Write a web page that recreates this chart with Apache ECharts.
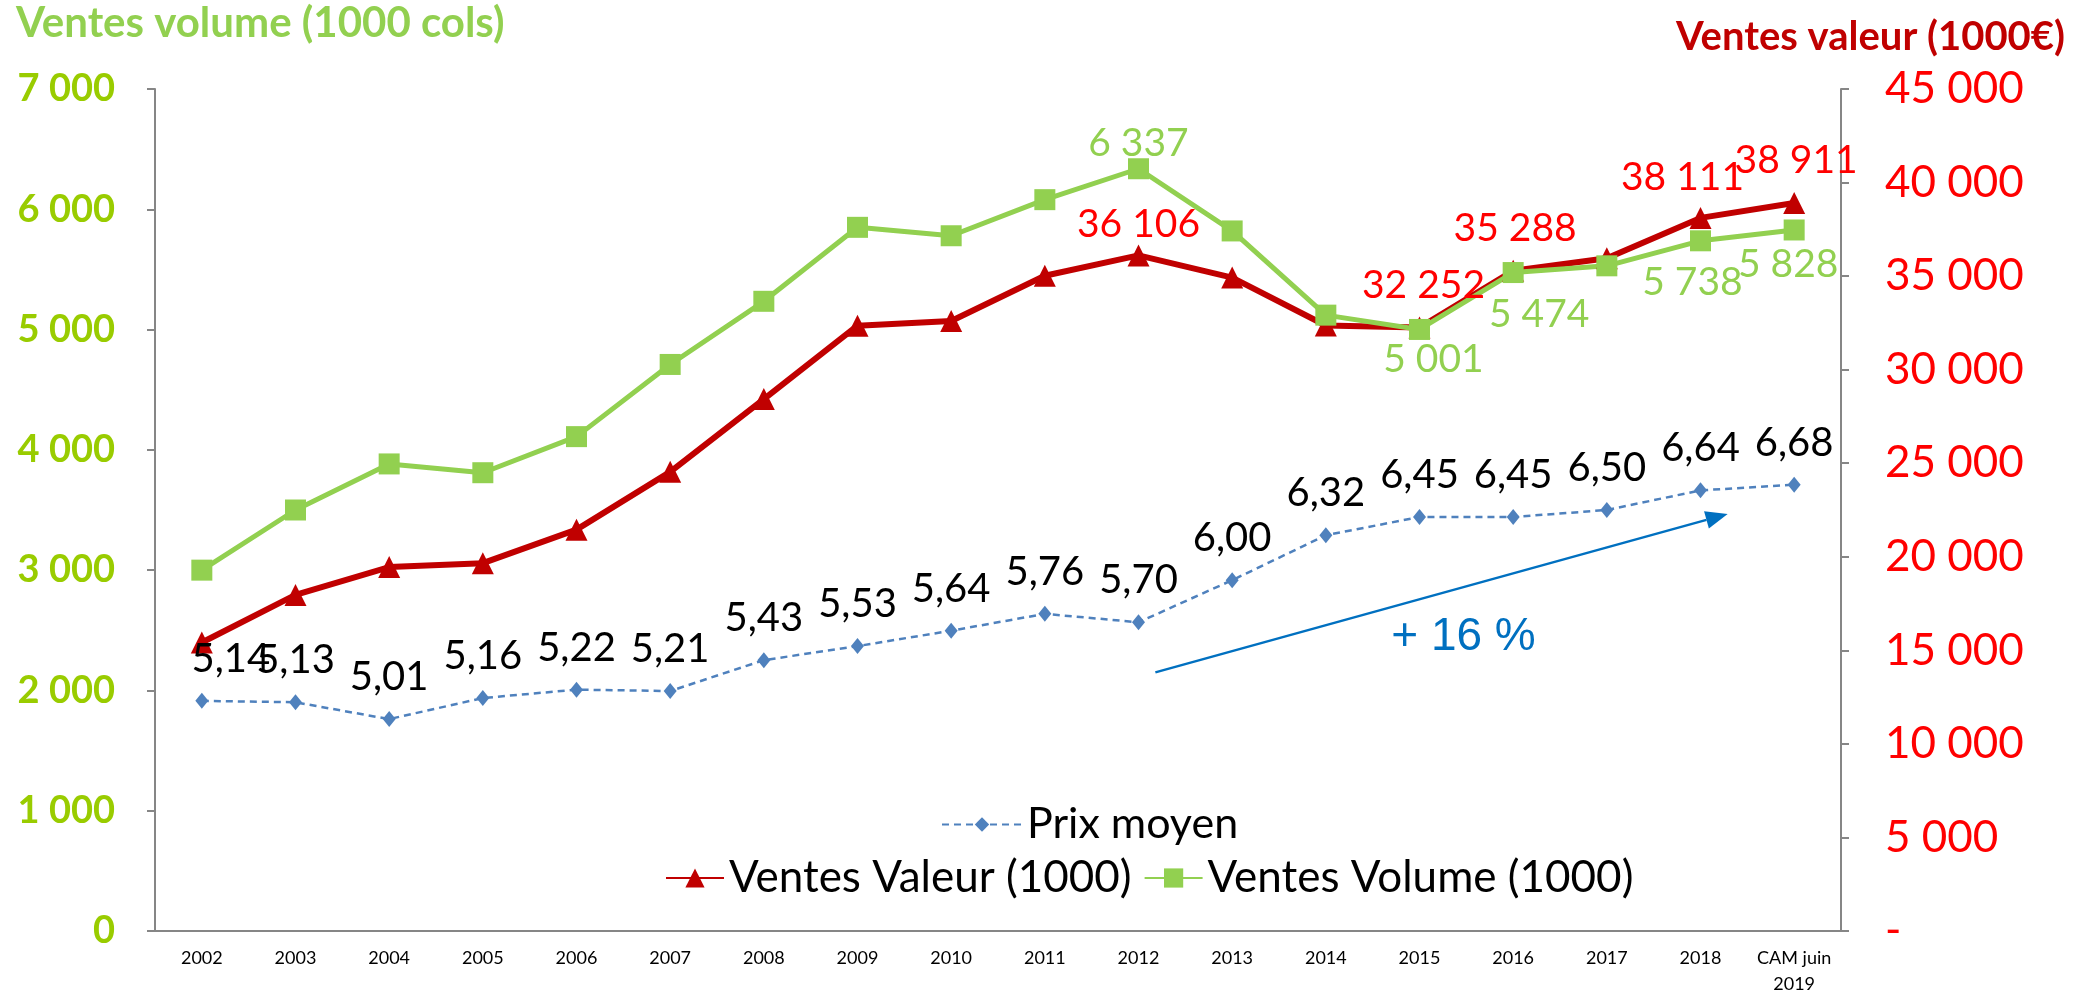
<!DOCTYPE html>
<html>
<head>
<meta charset="utf-8">
<script src="https://cdn.jsdelivr.net/npm/echarts@6/dist/echarts.min.js"></script>
<style>
  html, body { margin: 0; padding: 0; background: #fff; }
  #chart { width: 2087px; height: 997px; }
</style>
</head>
<body>
<div id="chart"></div>
<script>
var categories = ['2002','2003','2004','2005','2006','2007','2008','2009','2010','2011','2012','2013','2014','2015','2016','2017','2018','CAM juin\n2019'];
var prixMoyen = [5.14, 5.13, 5.01, 5.16, 5.22, 5.21, 5.43, 5.53, 5.64, 5.76, 5.70, 6.00, 6.32, 6.45, 6.45, 6.50, 6.64, 6.68];
var ventesValeur = [15420, 17960, 19450, 19660, 21450, 24540, 28430, 32350, 32600, 35020, 36106, 34920, 32360, 32252, 35288, 35950, 38111, 38911];
var ventesVolume = [3000, 3500, 3883, 3810, 4110, 4710, 5235, 5850, 5780, 6080, 6337, 5820, 5120, 5001, 5474, 5530, 5738, 5828];
var volumeTicks = [0, 7000, 1000];
var valeurTicks = [0, 45000, 5000];

var FONT = 'Lato';

function fmtSpace(v) {
    return String(Math.round(v)).replace(/\B(?=(\d{3})+(?!\d))/g, ' ');
}

// which points carry a label, and where
var valeurLabels = { 10: ['top', 0, [0, 0]], 13: ['top', 12, [4, 0]], 14: ['top', 12, [2, 0]], 16: ['top', 10, [-18, 0]], 17: ['top', 12, [2, 0]] };
var volumeLabels = { 10: ['top', -5, [0, 0]], 13: ['bottom', 0, [14, 0]], 14: ['bottom', 12, [26, 0]], 16: ['bottom', 12, [-8, 0]], 17: ['bottom', 4, [-6, 0]] };

function withLabels(values, cfg, color, fmt) {
    return values.map(function (v, i) {
        var c = cfg[i];
        if (!c) return v;
        return {
            value: v,
            label: {
                show: true, position: c[0], distance: c[1], offset: c[2],
                color: color, fontFamily: FONT, fontSize: 39,
                formatter: function (p) { return fmt(p.value); }
            }
        };
    });
}

var prixData = prixMoyen.map(function (v, i) {
    if (i === 0) return { value: v, label: { offset: [29, 0] } };
    return v;
});

var chart = echarts.init(document.getElementById('chart'));

var option = {
    animation: false,
    grid: { left: 155, right: 246, top: 89, bottom: 64 },
    legend: [{
        data: ['Prix moyen'],
        left: 936, top: 798,
        itemWidth: 80, itemHeight: 18,
        textStyle: { fontFamily: FONT, fontSize: 43, color: '#000' }
    }, {
        data: ['Ventes Valeur (1000)', 'Ventes Volume (1000)'],
        left: 660, top: 851,
        itemWidth: 58, itemHeight: 24, itemGap: 12,
        textStyle: { fontFamily: FONT, fontSize: 44, color: '#000' }
    }],
    xAxis: {
        type: 'category',
        data: categories,
        boundaryGap: true,
        axisLine: { lineStyle: { color: '#868686', width: 2 } },
        axisTick: { length: 8, lineStyle: { color: '#868686', width: 2 } },
        axisLabel: { color: '#000', fontFamily: FONT, fontSize: 18, margin: 14, lineHeight: 26, interval: 0 }
    },
    yAxis: [{
        type: 'value',
        min: volumeTicks[0], max: volumeTicks[1], interval: volumeTicks[2],
        position: 'left',
        splitLine: { show: false },
        axisLine: { show: true, lineStyle: { color: '#868686', width: 2 } },
        axisTick: { show: true, length: 8, lineStyle: { color: '#868686', width: 2 } },
        axisLabel: { color: '#99CC00', fontFamily: FONT, fontWeight: 'bold', fontSize: 38, margin: 40, formatter: fmtSpace }
    }, {
        type: 'value',
        min: valeurTicks[0], max: valeurTicks[1], interval: valeurTicks[2],
        position: 'right',
        splitLine: { show: false },
        axisLine: { show: true, lineStyle: { color: '#868686', width: 2 } },
        axisTick: { show: true, length: 8, lineStyle: { color: '#868686', width: 2 } },
        axisLabel: {
            color: '#FF0000', fontFamily: FONT, fontSize: 44, margin: 44,
            formatter: function (v) { return v === 0 ? '-' : fmtSpace(v); }
        }
    }, {
        type: 'value', min: 3.5, max: 9.5, show: false
    }],
    series: [{
        name: 'Prix moyen',
        type: 'line',
        yAxisIndex: 2,
        data: prixData,
        symbol: 'diamond',
        symbolSize: [13, 16],
        itemStyle: { color: '#4F81BD' },
        lineStyle: { color: '#4F81BD', width: 2.5, type: [7, 5] },
        label: {
            show: true, position: 'top', distance: 14,
            color: '#000', fontFamily: FONT, fontSize: 40,
            formatter: function (p) { return p.value.toFixed(2).replace('.', ','); }
        }
    }, {
        name: 'Ventes Valeur (1000)',
        type: 'line',
        yAxisIndex: 1,
        data: withLabels(ventesValeur, valeurLabels, '#FF0000', fmtSpace),
        symbol: 'triangle',
        symbolSize: 22,
        itemStyle: { color: '#C00000' },
        lineStyle: { color: '#C00000', width: 6 }
    }, {
        name: 'Ventes Volume (1000)',
        type: 'line',
        yAxisIndex: 0,
        data: withLabels(ventesVolume, volumeLabels, '#92D050', fmtSpace),
        symbol: 'rect',
        symbolSize: 21,
        itemStyle: { color: '#92D050' },
        lineStyle: { color: '#92D050', width: 5 }
    }]
};

chart.setOption(option);

// trend arrow "+ 16 %", placed in data space of the volume axis
function toPx(idx, vol) {
    var a = chart.convertToPixel({ xAxisIndex: 0, yAxisIndex: 0 }, [0, vol]);
    var b = chart.convertToPixel({ xAxisIndex: 0, yAxisIndex: 0 }, [1, vol]);
    return [a[0] + (b[0] - a[0]) * idx, a[1]];
}
var p1 = toPx(10.18, 2150), p2 = toPx(16.29, 3467), pt = toPx(13.47, 2440);
var ang = Math.atan2(p2[1] - p1[1], p2[0] - p1[0]);
var hl = 22, hw = 9;
var base = [p2[0] - hl * Math.cos(ang), p2[1] - hl * Math.sin(ang)];
chart.setOption({
    graphic: [{
        id: 'titleLeft', type: 'text', left: 16, top: 2,
        style: { text: 'Ventes volume (1000 cols)', fill: '#92D050', font: 'bold 42px Lato' }
    }, {
        id: 'titleRight', type: 'text', right: 22, top: 17,
        style: { text: 'Ventes valeur (1000€)', fill: '#C00000', font: 'bold 40px Lato' }
    }, {
        id: 'arrowLine', type: 'line', silent: true,
        shape: { x1: p1[0], y1: p1[1], x2: base[0], y2: base[1] },
        style: { stroke: '#0070C0', lineWidth: 2.5 }
    }, {
        id: 'arrowHead', type: 'polygon', silent: true,
        shape: { points: [p2,
            [base[0] + hw * Math.sin(ang), base[1] - hw * Math.cos(ang)],
            [base[0] - hw * Math.sin(ang), base[1] + hw * Math.cos(ang)]] },
        style: { fill: '#0070C0' }
    }, {
        id: 'trendText', type: 'text', silent: true,
        x: pt[0], y: pt[1],
        style: { text: '+ 16 %', fill: '#0070C0', font: '46px "Liberation Sans"', align: 'center', verticalAlign: 'middle' }
    }]
});
</script>
</body>
</html>
